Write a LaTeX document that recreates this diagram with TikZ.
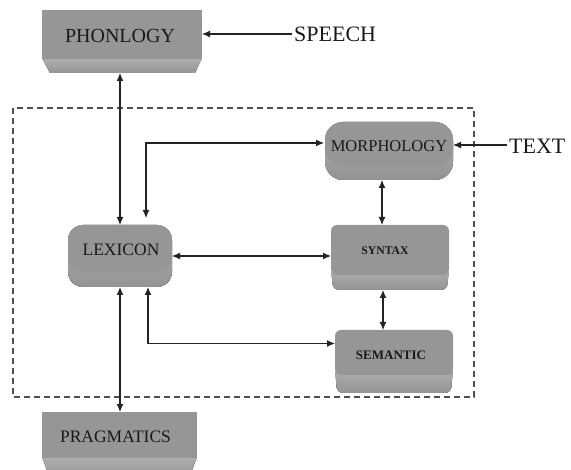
\documentclass[tikz,border=0pt]{standalone}
\usepackage{fontspec}
\setmainfont{Liberation Serif}
\usetikzlibrary{arrows.meta}
\definecolor{facegray}{RGB}{150,150,150}
\definecolor{bevtop}{RGB}{176,176,176}
\definecolor{bevbot}{RGB}{148,148,148}
\definecolor{inkc}{RGB}{25,25,25}
\definecolor{linec}{RGB}{35,35,35}
\begin{document}
\begin{tikzpicture}[x=1pt,y=-1pt,
  anchorbox/.style={draw=none,fill=none,inner sep=0pt,outer sep=0pt,minimum width=#1},
  lbl/.style={inner sep=0pt,text=inkc,font=\fontsize{#1}{#1}\selectfont},
  blbl/.style={inner sep=0pt,text=inkc,font=\fontsize{#1}{#1}\selectfont\bfseries},
  ext/.style={inner sep=2pt,text=inkc,font=\fontsize{22}{22}\selectfont},
  face/.style={fill=facegray},
  bevel/.style={top color=bevtop,bottom color=bevbot},
  conn/.style={draw=linec,line width=1.1pt,{Latex[length=8pt,width=7pt]}-{Latex[length=8pt,width=7pt]}},
  inconn/.style={draw=linec,line width=1.1pt,-{Latex[length=8pt,width=7pt]}},
  frame/.style={draw=linec!80,line width=1.1pt,dash pattern=on 6pt off 4pt}
]
\useasboundingbox (0,0) rectangle (571,470);

% dashed frame
\draw[frame] (13,108) rectangle (474,397);

% PHONLOGY
\fill[bevel] (42,58)--(202,58)--(195,73)--(50,73)--cycle;
\fill[face] (42,10) rectangle (202,59);
\node[anchorbox=160pt,minimum height=63pt] (phon) at (122,41.5) {};
\node[lbl=20] (phonT) at (120,35.5) {PHONLOGY};

% LEXICON
\fill[bevel,rounded corners=15pt] (68,225) rectangle (172,287);
\fill[face,rounded corners=15pt] (68,225) rectangle (172,272);
\node[anchorbox=104pt,minimum height=62pt] (lex) at (120,256) {};
\node[lbl=17.5] (lexT) at (121,250) {LEXICON};

% MORPHOLOGY
\fill[bevel,rounded corners=18pt] (325,122) rectangle (453,180);
\fill[face,rounded corners=18pt] (325,122) rectangle (453,166);
\node[anchorbox=128pt,minimum height=58pt] (morph) at (389,151) {};
\node[lbl=16.5] (morphT) at (389,146) {MORPHOLOGY};

% SYNTAX
\fill[bevel,rounded corners=6pt] (331,268)--(449,268)--(447,290)--(333,290)--cycle;
\fill[face,rounded corners=6pt] (331,225) rectangle (449,275);
\node[anchorbox=118pt,minimum height=65pt] (syn) at (390,257.5) {};
\node[blbl=11.7] (synT) at (385,251) {SYNTAX};

% SEMANTIC
\fill[bevel,rounded corners=6pt] (335,368)--(453,368)--(451,393)--(337,393)--cycle;
\fill[face,rounded corners=6pt] (335,330) rectangle (453,375);
\node[anchorbox=118pt,minimum height=63pt] (sem) at (394,361.5) {};
\node[blbl=13] (semT) at (391,355) {SEMANTIC};

% PRAGMATICS
\fill[bevel] (42,457)--(197,457)--(190,476)--(49,476)--cycle;
\fill[face] (42,412) rectangle (197,458);
\node[anchorbox=155pt,minimum height=64pt] (prag) at (119.5,444) {};
\node[lbl=17.5] (pragT) at (115.5,436.5) {PRAGMATICS};

% external inputs
\node[ext,anchor=west] (speech) at (292,34) {SPEECH};
\node[ext,anchor=west] (text) at (507,146) {TEXT};

% connectors
\draw[conn] (lex.north) -- (lex.north |- phon.south);
\draw[conn,shorten <=1pt] ([yshift=8pt]morph.west) -| ([xshift=26pt,yshift=7pt]lex.north);
\draw[conn] (lex.east) -- (lex.east -| syn.west);
\draw[conn] ([xshift=-7pt]morph.south) -- ([xshift=-7pt]morph.south |- syn.north);
\draw[conn] ([xshift=-7pt]syn.south) -- ([xshift=-7pt]syn.south |- sem.north);
\draw[conn] ([xshift=28pt]lex.south) |- ([yshift=18pt]sem.west);
\draw[conn] (lex.south) -- (lex.south |- prag.north);
\draw[inconn] (speech.west) -- (speech.west -| phon.east);
\draw[inconn] ([yshift=1pt]text.west) -- ([yshift=1pt]text.west -| morph.east);
\end{tikzpicture}
\end{document}
